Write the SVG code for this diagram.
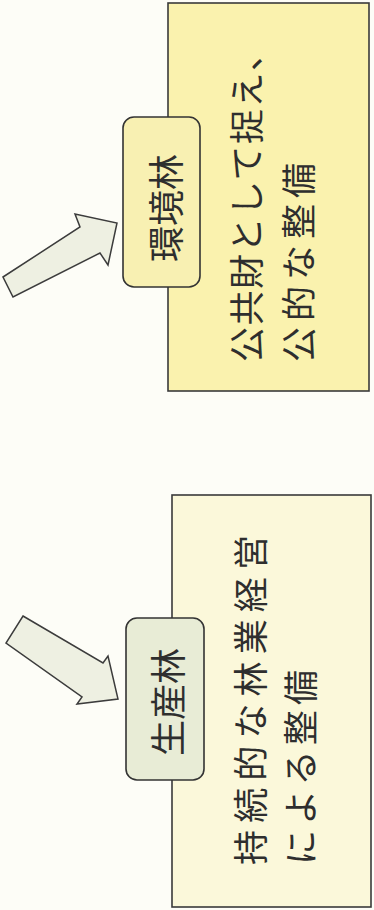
<svg xmlns="http://www.w3.org/2000/svg" width="374" height="910" viewBox="0 0 374 910">
<style>
.bg{fill:#fdfdf7}
.big{stroke:#3a3a3a;stroke-width:1.6}
.tag{stroke:#333;stroke-width:1.6}
.arrow{fill:#eef0e2;stroke:#3c3c3c;stroke-width:1.5;stroke-linejoin:miter}
text{font-family:"Noto Sans CJK JP","Noto Sans CJK SC",sans-serif;fill:#2e2e2e}
.t{font-size:35px}
.l{font-size:36px}
</style>
<rect class="bg" x="0" y="0" width="374" height="910"/>
<g id="connectors">
<polygon class="arrow" points="3,277 80,227 75,214 117,223 108,265 100,253 13,297"/>
<polygon class="arrow" points="23,616 103,663 108,656 118,699 77,704 82,697 6,643"/>
</g>
<g id="box-env">
<rect class="big" x="168" y="3" width="201" height="388" fill="#faf2ae"/>
<text class="t" transform="translate(260,362) rotate(-90)" textLength="326" lengthAdjust="spacing">公共財として捉え、</text>
<text class="t" transform="translate(312,362) rotate(-90)" textLength="199" lengthAdjust="spacing">公的な整備</text>
</g>
<g id="box-prod">
<rect class="big" x="172" y="495" width="199" height="412" fill="#fbf8da"/>
<text class="t" transform="translate(264,865) rotate(-90)" textLength="330" lengthAdjust="spacing">持続的な林業経営</text>
<text class="t" transform="translate(314,865) rotate(-90)" textLength="195" lengthAdjust="spacing">による整備</text>
</g>
<g id="tag-env">
<rect class="tag" x="123" y="117" width="77" height="170" rx="11" fill="#f8f0b2"/>
<text class="l" transform="translate(180,208) rotate(-90)" text-anchor="middle">環境林</text>
</g>
<g id="tag-prod">
<rect class="tag" x="126" y="618" width="78" height="162" rx="11" fill="#e8ecd6"/>
<text class="l" transform="translate(182,702) rotate(-90)" text-anchor="middle">生産林</text>
</g>
</svg>
